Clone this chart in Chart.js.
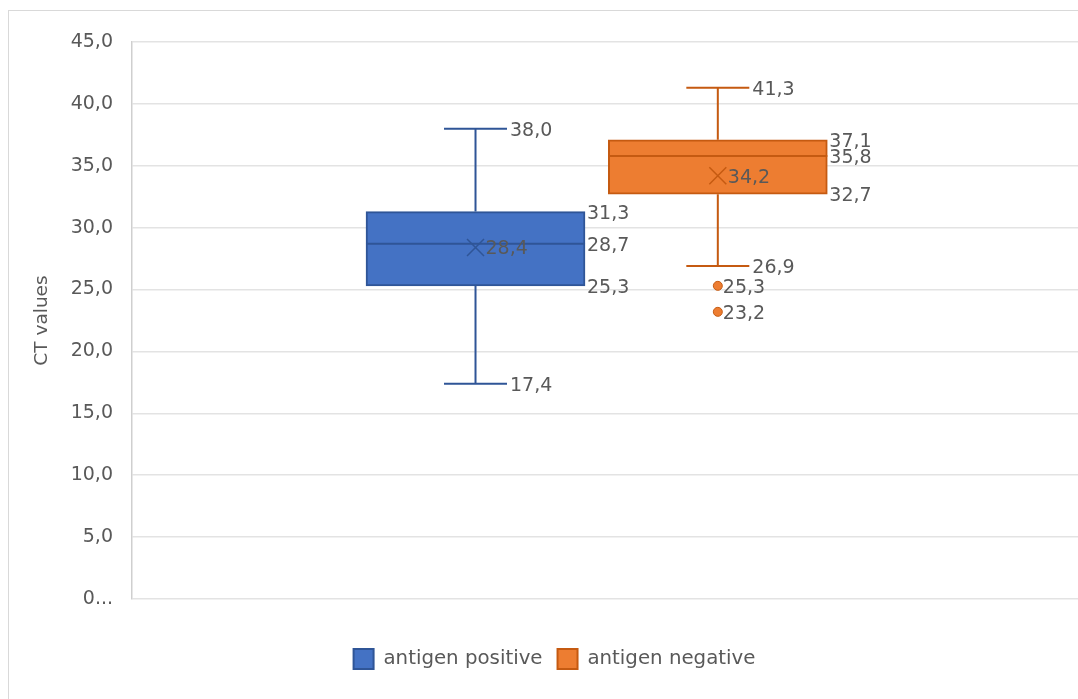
<!DOCTYPE html>
<html>
<head>
<meta charset="utf-8">
<script src="https://cdn.jsdelivr.net/npm/chart.js@4.4.1/dist/chart.umd.min.js"></script>
<style>
  html, body { margin: 0; padding: 0; background: #ffffff; overflow: hidden; }
  #frame { position: absolute; left: 8px; top: 10px; width: 1200px; height: 800px; border: 1px solid #d9d9d9; box-sizing: border-box; }
  #wrap { position: absolute; left: 0; top: 0; width: 1078px; height: 699px; }
</style>
</head>
<body>
<div id="frame"></div>
<div id="wrap"><canvas id="c" width="1078" height="699"></canvas></div>
<script>
// ---- data ----
const categories = ['antigen positive', 'antigen negative'];
const seriesMin = [17.4, 26.9];
const seriesQ1 = [25.3, 32.7];
const seriesMedian = [28.7, 35.8];
const seriesQ3 = [31.3, 37.1];
const seriesMax = [38.0, 41.3];
const seriesMean = [28.4, 34.2];
const seriesOutliers = [[], [25.3, 23.2]];
const yTickLabels = ['0...', '5,0', '10,0', '15,0', '20,0', '25,0', '30,0', '35,0', '40,0', '45,0'];
const yTitle = 'CT values';

// ---- styling ----
const fillColors = ['#4472c4', '#ed7d31'];
const lineColors = ['#2f5597', '#c55a11'];
const FONT = 'DejaVu Sans';
const TEXT = '#595959';
const BOX_HALF = 0.452;   // box half width in x-units
const CAP_HALF = 0.13;    // whisker cap half width in x-units

const fmt = v => v.toFixed(1).replace('.', ',');

const datasets = [];
categories.forEach((name, i) => {
  const cx = i + 1;
  datasets.push({
    type: 'bar', label: name,
    data: [{ x: cx, y: [seriesQ1[i], seriesQ3[i]] }],
    backgroundColor: fillColors[i], borderColor: lineColors[i], borderWidth: 2,
    borderSkipped: false, barThickness: 219, grouped: false, order: 5
  });
  datasets.push({
    type: 'line', label: '',
    data: [
      { x: cx - BOX_HALF, y: seriesMedian[i] }, { x: cx + BOX_HALF, y: seriesMedian[i] }
    ],
    borderColor: lineColors[i], borderWidth: 2, pointRadius: 0, fill: false, order: 2
  });
  datasets.push({
    type: 'line', label: '',
    data: [
      { x: cx - CAP_HALF, y: seriesMin[i] }, { x: cx + CAP_HALF, y: seriesMin[i] }, { x: cx, y: null },
      { x: cx, y: seriesMin[i] }, { x: cx, y: seriesQ1[i] }, { x: cx, y: null },
      { x: cx, y: seriesQ3[i] }, { x: cx, y: seriesMax[i] }, { x: cx, y: null },
      { x: cx - CAP_HALF, y: seriesMax[i] }, { x: cx + CAP_HALF, y: seriesMax[i] }
    ],
    borderColor: lineColors[i], borderWidth: 2, pointRadius: 0, spanGaps: false, fill: false, order: 6
  });
  datasets.push({
    type: 'scatter', label: '',
    data: [{ x: cx, y: seriesMean[i] }],
    pointStyle: 'crossRot', pointRadius: 12, borderColor: lineColors[i], borderWidth: 1.5, order: 1
  });
  if (seriesOutliers[i].length) {
    datasets.push({
      type: 'scatter', label: '',
      data: seriesOutliers[i].map(v => ({ x: cx, y: v })),
      pointStyle: 'circle', pointRadius: 4.5, backgroundColor: fillColors[i], borderColor: lineColors[i], borderWidth: 1, order: 1
    });
  }
});

const labelPlugin = {
  id: 'boxLabels',
  afterDatasetsDraw(chart) {
    const ctx = chart.ctx, xs = chart.scales.x, ys = chart.scales.y;
    ctx.save();
    ctx.font = '19px "' + FONT + '"';
    ctx.fillStyle = TEXT;
    ctx.textAlign = 'left';
    ctx.textBaseline = 'middle';
    const put = (t, x, v) => ctx.fillText(t, x, ys.getPixelForValue(v) + 2);
    categories.forEach((name, i) => {
      const cx = i + 1;
      const capR = xs.getPixelForValue(cx + CAP_HALF) + 3;
      const boxR = xs.getPixelForValue(cx + BOX_HALF) + 2;
      const c = xs.getPixelForValue(cx);
      put(fmt(seriesMax[i]), capR, seriesMax[i]);
      put(fmt(seriesMin[i]), capR, seriesMin[i]);
      put(fmt(seriesQ3[i]), boxR, seriesQ3[i]);
      put(fmt(seriesMedian[i]), boxR, seriesMedian[i]);
      put(fmt(seriesQ1[i]), boxR, seriesQ1[i]);
      put(fmt(seriesMean[i]), c + 10, seriesMean[i]);
      seriesOutliers[i].forEach(v => put(fmt(v), c + 5, v));
    });
    ctx.restore();
  }
};

new Chart(document.getElementById('c'), {
  type: 'bar',
  data: { datasets },
  options: {
    responsive: false,
    animation: false,
    layout: { autoPadding: false, padding: { left: 31, right: 0, top: 42, bottom: 20 } },
    plugins: {
      tooltip: { enabled: false },
      legend: {
        position: 'bottom',
        labels: {
          filter: item => item.text !== '',
          font: { family: FONT, size: 19.8 },
          color: TEXT,
          boxWidth: 20, boxHeight: 20, padding: 15
        }
      }
    },
    scales: {
      x: {
        type: 'linear', display: true, offset: false, min: -0.4177, max: 3.4865,
        afterFit: s => { s.height = 35; },
        ticks: { display: false },
        grid: { display: false },
        border: { display: false }
      },
      y: {
        min: 0, max: 45,
        afterFit: s => { s.width = 101; },
        ticks: {
          stepSize: 5, padding: 19, color: TEXT,
          font: { family: FONT, size: 19 },
          callback: (v) => yTickLabels[Math.round(v / 5)]
        },
        grid: { color: '#e3e3e3', lineWidth: 1.5, drawTicks: false },
        border: { color: '#cfcfcf', width: 1.5 },
        title: {
          display: true, text: yTitle, color: TEXT,
          font: { family: FONT, size: 18.5 }, padding: { top: 0, bottom: 0 }
        }
      }
    }
  },
  plugins: [labelPlugin]
});
</script>
</body>
</html>
